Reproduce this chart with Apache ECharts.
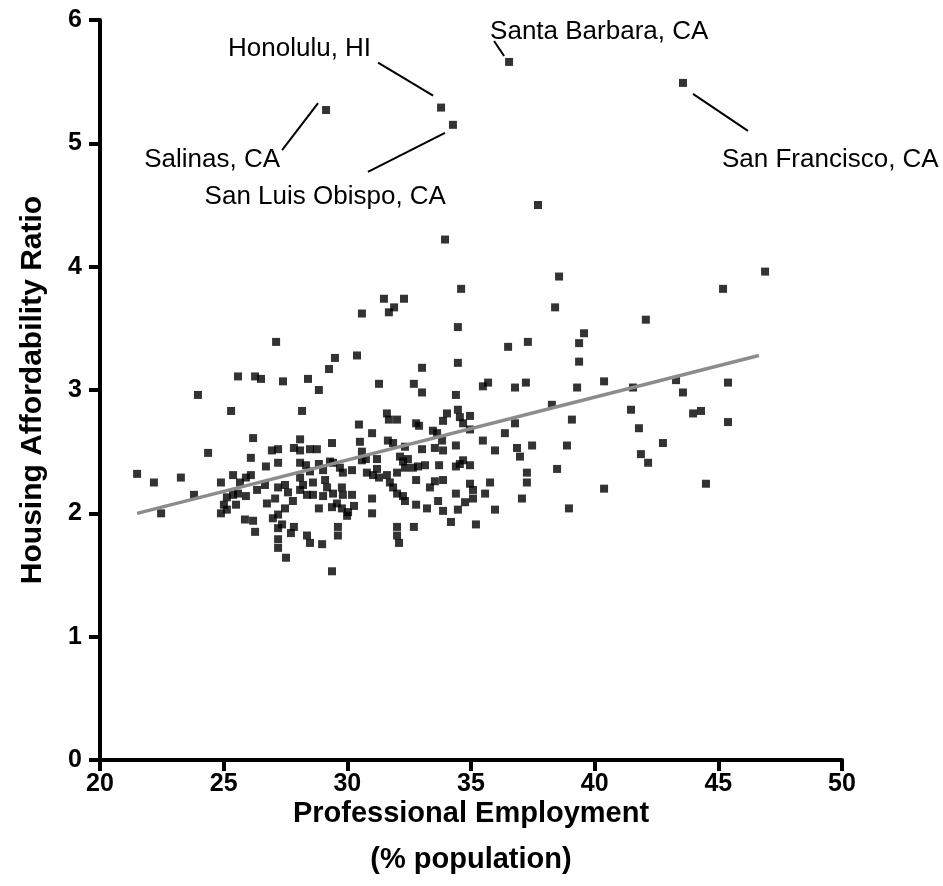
<!DOCTYPE html>
<html>
<head>
<meta charset="utf-8">
<script src="https://cdn.jsdelivr.net/npm/echarts@6/dist/echarts.min.js"></script>
<style>
  html, body { margin: 0; padding: 0; background: #fff; }
  #chart { width: 943px; height: 886px; }
</style>
</head>
<body>
<div id="chart"></div>
<script>
// Professional employment (% population) for each metro area
const profEmployment = [
  21.50,22.18,23.27,22.47,23.80,23.96,24.37,25.30,25.58,26.27,26.51,27.40,27.12,
  26.19,26.10,26.95,27.20,27.20,26.71,27.84,
  24.89,25.38,25.66,25.90,26.10,25.13,25.38,25.58,25.90,25.01,25.50,25.13,24.89,26.35,26.67,25.86,26.19,26.27,
  27.20,27.48,27.60,27.08,26.75,27.80,27.48,27.20,26.99,27.36,27.20,27.84,27.72,27.20,27.20,27.52,
  28.41,28.85,29.26,29.50,30.39,30.59,31.48,31.89,31.68,32.29,31.28,32.69,33.02,33.02,34.39,34.47,34.47,34.60,33.95,
  28.17,31.60,31.68,32.01,30.47,31.00,32.78,32.90,34.03,33.87,34.47,34.55,34.68,34.96,34.96,33.46,33.63,
  28.09,28.09,28.49,28.77,29.38,30.51,30.59,31.64,31.85,32.33,33.02,33.83,33.54,33.87,34.39,
  28.09,28.33,28.85,29.30,29.42,29.02,28.49,29.70,29.82,30.19,30.59,30.75,31.20,30.79,31.04,31.20,31.28,31.60,32.01,
  32.13,32.25,32.45,32.33,32.65,32.86,33.14,33.71,34.39,34.55,34.68,34.96,
  28.09,28.21,28.61,28.09,28.37,28.61,29.10,29.18,29.02,29.42,29.78,29.82,30.19,
  28.85,29.38,29.58,29.78,30.03,30.27,29.99,31.00,31.00,31.72,31.85,32.01,32.25,32.33,32.78,32.78,33.22,33.34,
  33.54,33.87,33.67,33.87,34.39,34.47,34.19,34.76,34.96,35.08,35.08,35.20,
  28.37,28.49,28.98,29.62,29.62,32.01,32.01,32.09,32.69,29.38,
  37.71,38.56,38.40,42.07,39.57,39.37,39.37,37.30,36.50,46.89,45.19,
  35.48,35.69,36.78,37.22,39.29,40.38,41.55,43.29,43.57,45.39,
  38.27,36.78,39.08,41.47,41.79,43.98,44.30,45.39,
  35.48,36.37,35.97,36.86,36.98,37.47,38.88,41.87,42.16,42.76,
  38.48,35.77,37.26,37.26,35.57,37.06,40.38,35.97,38.96,44.50
];

// Housing affordability ratio, same order as above
const affordability = [
  2.32,2.25,2.29,2.00,2.15,2.96,2.49,2.83,3.11,3.11,3.09,3.07,3.39,
  2.61,2.45,2.51,2.52,2.41,2.38,2.53,
  2.25,2.31,2.25,2.29,2.31,2.13,2.15,2.16,2.14,2.07,2.07,2.03,2.00,2.19,2.23,1.95,1.94,1.85,
  2.21,2.23,2.17,2.12,2.08,2.10,2.04,1.99,1.96,1.91,1.88,1.89,1.84,1.79,1.72,1.64,
  3.09,3.00,3.17,3.26,3.28,3.62,3.74,3.67,3.63,3.74,3.05,3.05,3.18,2.98,2.96,3.22,3.51,3.82,4.22,
  2.83,2.81,2.76,2.76,2.72,2.65,2.73,2.71,2.81,2.75,2.84,2.78,2.73,2.79,2.68,2.67,2.65,
  2.60,2.51,2.52,2.52,2.57,2.58,2.50,2.59,2.57,2.54,2.52,2.59,2.53,2.51,2.55,
  2.41,2.39,2.40,2.42,2.41,2.35,2.34,2.37,2.33,2.35,2.43,2.44,2.44,2.33,2.31,2.36,2.29,2.31,2.33,
  2.46,2.42,2.44,2.37,2.37,2.38,2.39,2.39,2.38,2.40,2.43,2.39,
  2.29,2.23,2.25,2.19,2.15,2.15,2.27,2.21,2.14,2.16,2.21,2.15,2.15,
  2.04,2.05,2.08,2.04,2.01,2.06,1.98,2.12,2.00,2.25,2.21,2.16,2.14,2.10,2.27,2.07,2.04,2.21,
  2.26,2.27,2.10,2.02,2.16,2.03,1.93,2.09,2.24,2.19,2.12,1.91,
  1.82,1.76,1.75,1.89,1.82,1.89,1.82,1.76,1.89,1.53,
  4.50,3.92,3.67,3.57,3.46,3.38,3.23,3.39,3.35,3.96,3.82,
  3.03,3.06,3.02,3.06,3.02,3.07,3.02,3.08,2.98,3.06,
  2.88,2.73,2.76,2.84,2.69,2.81,2.83,2.74,
  2.59,2.65,2.51,2.53,2.46,2.55,2.55,2.48,2.41,2.57,
  2.36,2.25,2.33,2.25,2.16,2.12,2.20,2.03,2.04,2.24
];

// Named outlier metros
const cityNames = ['Santa Barbara, CA', 'Honolulu, HI', 'San Luis Obispo, CA', 'Salinas, CA', 'San Francisco, CA'];
const cityEmployment = [36.54, 33.79, 34.27, 29.14, 43.57];
const cityAffordability = [5.66, 5.29, 5.15, 5.27, 5.49];

// Linear fit endpoints
const trendEmployment = [21.5, 46.64];
const trendAffordability = [2.00, 3.28];

// Axis ticks
const xTicks = [20, 25, 30, 35, 40, 45, 50];
const yTicks = [0, 1, 2, 3, 4, 5, 6];

const points = profEmployment.map((x, i) => [x, affordability[i]])
  .concat(cityEmployment.map((x, i) => [x, cityAffordability[i]]));
const trend = trendEmployment.map((x, i) => [x, trendAffordability[i]]);

const chart = echarts.init(document.getElementById('chart'), null, { renderer: 'canvas' });

const sansFont = '"Liberation Sans", Arial, Helvetica, sans-serif';

function axisCommon() {
  return {
    axisLine: { show: true, onZero: false, lineStyle: { color: '#000', width: 4 } },
    axisTick: { show: true, inside: false, length: 11, lineStyle: { color: '#000', width: 4 } },
    splitLine: { show: false },
    axisLabel: { color: '#000', fontFamily: sansFont, fontWeight: 'bold', fontSize: 25 },
    nameTextStyle: { color: '#000', fontFamily: sansFont, fontWeight: 'bold' }
  };
}

const xAxis = Object.assign(axisCommon(), {
  type: 'value',
  min: xTicks[0],
  max: xTicks[xTicks.length - 1],
  interval: xTicks[1] - xTicks[0],
  name: 'Professional Employment\n(% population)',
  nameLocation: 'middle',
  nameMoveOverlap: false,
  nameGap: 31
});
xAxis.axisLabel.margin = 12;
xAxis.nameTextStyle.fontSize = 29;
xAxis.nameTextStyle.lineHeight = 46;
xAxis.nameTextStyle.verticalAlign = 'top';

const yAxis = Object.assign(axisCommon(), {
  type: 'value',
  min: yTicks[0],
  max: yTicks[yTicks.length - 1],
  interval: yTicks[1] - yTicks[0],
  name: 'Housing Affordability Ratio',
  nameLocation: 'middle',
  nameGap: 52
});
yAxis.axisLabel.margin = 18;
yAxis.nameTextStyle.fontSize = 30;

chart.setOption({
  animation: false,
  backgroundColor: '#fff',
  grid: { left: 100, right: 101, top: 20, bottom: 126, containLabel: false, outerBoundsMode: 'none' },
  xAxis: xAxis,
  yAxis: yAxis,
  series: [
    {
      type: 'scatter',
      data: points,
      symbol: 'rect',
      symbolSize: 8,
      itemStyle: { color: '#000' },
      z: 2
    },
    {
      type: 'line',
      data: trend,
      symbol: 'none',
      lineStyle: { color: '#8c8c8c', width: 3.5 },
      z: 3
    }
  ]
});

// Callout placement for each named city, relative to its marker (px)
const callouts = [
  { text: [-19, -30], align: 'left',   line: [-15, -21, -5, -6] },
  { text: [-70, -59], align: 'right',  line: [-63, -45, -8, -12] },
  { text: [-7, 72],   align: 'right',  line: [-85, 47, -8, 8] },
  { text: [-46, 50],  align: 'right',  line: [-44, 40, -8, -7] },
  { text: [39, 77],   align: 'left',   line: [10, 11, 65, 48] }
];

const graphics = [];
cityNames.forEach((name, i) => {
  const p = chart.convertToPixel({ xAxisIndex: 0, yAxisIndex: 0 }, [cityEmployment[i], cityAffordability[i]]);
  const c = callouts[i];
  graphics.push({
    type: 'text',
    silent: true,
    style: {
      text: name,
      x: p[0] + c.text[0],
      y: p[1] + c.text[1],
      textAlign: c.align,
      textVerticalAlign: 'middle',
      fill: '#000',
      font: '26px ' + sansFont
    }
  });
  graphics.push({
    type: 'line',
    silent: true,
    shape: { x1: p[0] + c.line[0], y1: p[1] + c.line[1], x2: p[0] + c.line[2], y2: p[1] + c.line[3] },
    style: { stroke: '#000', lineWidth: 2 }
  });
});

chart.setOption({ graphic: graphics });
</script>
</body>
</html>
